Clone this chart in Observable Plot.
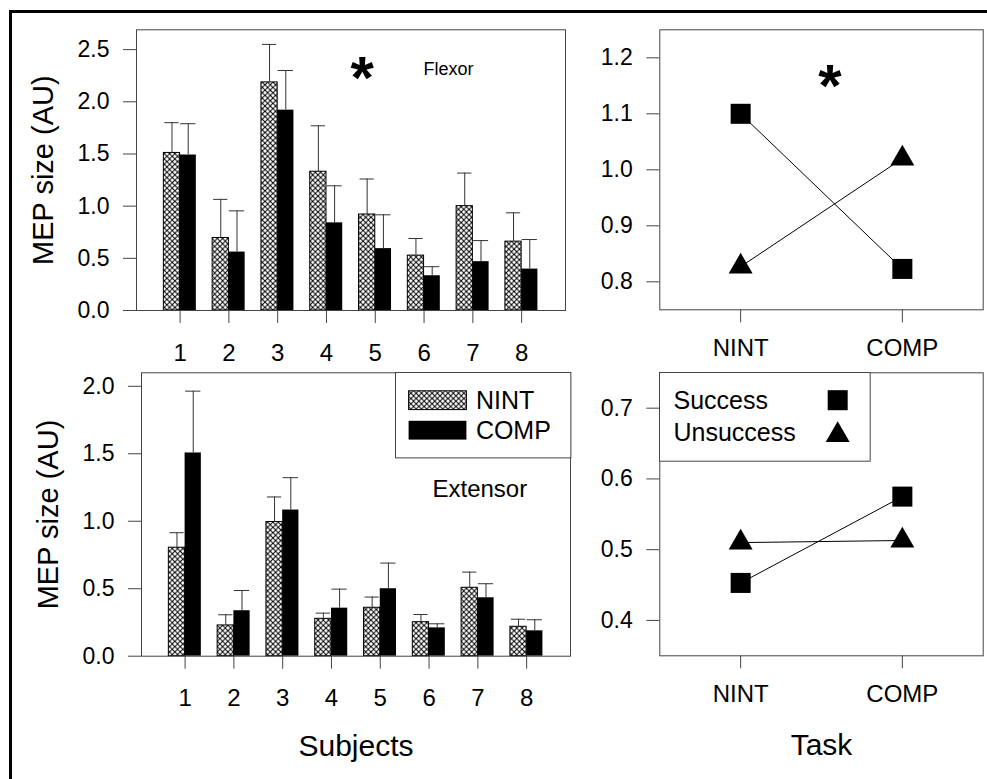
<!DOCTYPE html>
<html><head><meta charset="utf-8">
<script src="https://cdn.jsdelivr.net/npm/d3@7"></script>
<script src="https://cdn.jsdelivr.net/npm/@observablehq/plot@0.6"></script>
<style>
body{margin:0;background:#fff;}
#chart{position:relative;width:987px;height:779px;overflow:hidden;font-family:"Liberation Sans",Arial,sans-serif;background:#fff;}
#chart svg{position:absolute;left:0;top:0;}
#border{position:absolute;left:9px;top:9.5px;width:1200px;height:1200px;border-left:3px solid #000;border-top:3px solid #000;}
</style></head><body>
<svg width="0" height="0" style="position:absolute">
  <defs>
    <pattern id="hatch" patternUnits="userSpaceOnUse" width="5.3" height="5.3">
      <rect width="5.3" height="5.3" fill="white"/>
      <path d="M-1,-1L6.3,6.3M6.3,-1L-1,6.3" stroke="black" stroke-width="1"/>
    </pattern>
  </defs>
</svg>
<div id="chart"><div id="border"></div></div>
<script>
// ---------- data ----------
const subjects = [1, 2, 3, 4, 5, 6, 7, 8];
const conditions = ["NINT", "COMP"];
const flexorNINT    = [1.51, 0.695, 2.186, 1.33, 0.92, 0.526, 1.00, 0.66];
const flexorNINTse  = [0.29, 0.37, 0.364, 0.44, 0.34, 0.164, 0.317, 0.276];
const flexorCOMP    = [1.49, 0.56, 1.92, 0.84, 0.593, 0.333, 0.468, 0.397];
const flexorCOMPse  = [0.30, 0.395, 0.38, 0.355, 0.324, 0.087, 0.202, 0.283];
const extensorNINT   = [0.804, 0.228, 0.994, 0.277, 0.359, 0.252, 0.507, 0.218];
const extensorNINTse = [0.111, 0.079, 0.186, 0.042, 0.079, 0.057, 0.116, 0.056];
const extensorCOMP   = [1.506, 0.337, 1.083, 0.356, 0.500, 0.210, 0.433, 0.188];
const extensorCOMPse = [0.458, 0.150, 0.240, 0.141, 0.190, 0.030, 0.104, 0.082];

const tasks = ["NINT", "COMP"];
const groups = ["Success", "Unsuccess"];
const flexorSuccess     = [1.10, 0.823];
const flexorUnsuccess   = [0.827, 1.020];
const extensorSuccess   = [0.453, 0.575];
const extensorUnsuccess = [0.510, 0.513];

const flexorTicks = [0, 0.5, 1.0, 1.5, 2.0, 2.5];
const extensorTicks = [0, 0.5, 1.0, 1.5, 2.0];
const flexorTaskTicks = [0.8, 0.9, 1.0, 1.1, 1.2];
const extensorTaskTicks = [0.4, 0.5, 0.6, 0.7];

const yTitle = "MEP size (AU)";
const xTitleSubjects = "Subjects";
const xTitleTask = "Task";
const star = "*";

// ---------- layout ----------
const W = 987, H = 779;
const FONT = '"Liberation Sans", Arial, Helvetica, sans-serif';
const AX = "#444";
const chart = document.getElementById("chart");
const fmt = d3.format(".1f");

function rows(mean, se) {
  return subjects.map((s, i) => ({subject: s, mean: mean[i], top: mean[i] + se[i]}));
}

function barPanel(o) {
  const nint = rows(o.nint, o.nintSE), comp = rows(o.comp, o.compSE);
  const pad = 0.334;
  const step = (o.xRange[1] - o.xRange[0]) / (subjects.length + pad);
  const bw = step * (1 - pad), half = bw / 2, q = bw / 4;
  const [l, t, r, b] = o.box;
  return Plot.plot({
    width: W, height: H,
    marginLeft: l, marginTop: t, marginRight: W - r, marginBottom: H - b,
    style: {fontFamily: FONT, fontSize: "23px", color: "black", background: "transparent", overflow: "visible"},
    x: {type: "band", domain: subjects, range: o.xRange, padding: pad, round: false},
    y: {domain: o.yDomain},
    marks: [
      Plot.barY(nint, {x: "subject", y: "mean", fill: "url(#hatch)", stroke: "black", strokeWidth: 1, insetRight: half}),
      Plot.barY(comp, {x: "subject", y: "mean", fill: "black", insetLeft: half}),
      Plot.ruleX(nint, {x: "subject", y1: "mean", y2: "top", dx: -q, stroke: "#333"}),
      Plot.tickY(nint, {x: "subject", y: "top", insetLeft: 1, insetRight: half + 1, stroke: "#333"}),
      Plot.ruleX(comp, {x: "subject", y1: "mean", y2: "top", dx: q, stroke: "#333"}),
      Plot.tickY(comp, {x: "subject", y: "top", insetLeft: half + 0.5, insetRight: 0.5, stroke: "#333"}),
      Plot.frame({stroke: AX}),
      Plot.axisX({tickSize: 13, tickPadding: 20, fontSize: 24, stroke: AX, label: null}),
      Plot.axisY({ticks: o.yTicks, tickFormat: fmt, tickSize: 13, tickPadding: 14, fontSize: 23, stroke: AX, label: null}),
      Plot.text([yTitle], {text: d => d, frameAnchor: "left", dx: -93, rotate: -90, fontSize: 29, textAnchor: "middle", lineAnchor: "middle"}),
      ...o.extra
    ]
  });
}

function taskPanel(o) {
  const data = [
    ...tasks.map((t, i) => ({task: t, group: groups[0], value: o.success[i]})),
    ...tasks.map((t, i) => ({task: t, group: groups[1], value: o.unsuccess[i]}))
  ];
  const [l, t, r, b] = o.box;
  return Plot.plot({
    width: W, height: H,
    marginLeft: l, marginTop: t, marginRight: W - r, marginBottom: H - b,
    style: {fontFamily: FONT, fontSize: "23px", color: "black", background: "transparent", overflow: "visible"},
    x: {type: "point", domain: tasks, padding: 0.5, round: false},
    y: {domain: o.yDomain},
    marks: [
      Plot.line(data, {x: "task", y: "value", z: "group", stroke: "black", strokeWidth: 1}),
      Plot.dot(data.filter(d => d.group === groups[0]), {x: "task", y: "value", symbol: "square", r: 11.3, fill: "black"}),
      Plot.dot(data.filter(d => d.group === groups[1]), {x: "task", y: "value", symbol: "triangle", r: 8.9, fill: "black"}),
      Plot.frame({stroke: AX}),
      Plot.axisX({tickSize: 13, tickPadding: 16.5, fontSize: 24, stroke: AX, label: null}),
      Plot.axisY({ticks: o.yTicks, tickFormat: fmt, tickSize: 13, tickPadding: 14, fontSize: 23, stroke: AX, label: null}),
      ...o.extra
    ]
  });
}

const M = {lineAnchor: "middle"};
const tl = barPanel({
  nint: flexorNINT, nintSE: flexorNINTse, comp: flexorCOMP, compSE: flexorCOMPse,
  box: [136, 29.3, 565, 310], xRange: [147.05, 553.7], yDomain: [0, 2.69], yTicks: flexorTicks,
  extra: [
    Plot.text(["Flexor"], {...M, text: d => d, frameAnchor: "top-left", dx: 287, dy: 39, textAnchor: "start", fontSize: 18}),
    Plot.text([star], {...M, text: d => d, frameAnchor: "top-left", dx: 225.6, dy: 49.1, textAnchor: "middle", fontSize: 60, fontWeight: "bold"})
  ]
});
const bl = barPanel({
  nint: extensorNINT, nintSE: extensorNINTse, comp: extensorCOMP, compSE: extensorCOMPse,
  box: [141, 372.3, 570, 655.7], xRange: [152.05, 558.7], yDomain: [0, 2.1], yTicks: extensorTicks,
  extra: [
    Plot.text(["Extensor"], {...M, text: d => d, frameAnchor: "top-left", dx: 291, dy: 117, textAnchor: "start", fontSize: 24}),
    Plot.text([xTitleSubjects], {...M, text: d => d, frameAnchor: "bottom", dy: 89.7, textAnchor: "middle", fontSize: 30})
  ]
});
const tr = taskPanel({
  success: flexorSuccess, unsuccess: flexorUnsuccess,
  box: [659.3, 29.3, 982.7, 309.3], yDomain: [0.75, 1.25], yTicks: flexorTaskTicks,
  extra: [
    Plot.text([star], {...M, text: d => d, frameAnchor: "top-left", dx: 170, dy: 57.1, textAnchor: "middle", fontSize: 60, fontWeight: "bold"})
  ]
});
const br = taskPanel({
  success: extensorSuccess, unsuccess: extensorUnsuccess,
  box: [659.3, 372.3, 982.7, 655.3], yDomain: [0.35, 0.75], yTicks: extensorTaskTicks,
  extra: [
    Plot.text([xTitleTask], {...M, text: d => d, frameAnchor: "bottom", dy: 90, textAnchor: "middle", fontSize: 30})
  ]
});

// legends
const legendBars = Plot.plot({
  width: 175.4, height: 85.4, margin: 0,
  style: {fontFamily: FONT, fontSize: "25px", color: "black", background: "transparent", overflow: "visible"},
  y: {type: "band", domain: conditions, range: [7.6, 78.8], padding: 0.373, round: false, axis: null},
  marks: [
    Plot.frame({stroke: AX, fill: "white"}),
    Plot.cell([conditions[0]], {y: d => d, fill: "url(#hatch)", stroke: "black", insetLeft: 13.6, insetRight: 104}),
    Plot.cell([conditions[1]], {y: d => d, fill: "black", insetLeft: 13.6, insetRight: 104}),
    Plot.text(conditions, {...M, y: d => d, text: d => d, frameAnchor: "left", dx: 80.4, textAnchor: "start", fontSize: 25})
  ]
});
const legendSymbols = Plot.plot({
  width: 210.7, height: 88.7, margin: 0,
  style: {fontFamily: FONT, fontSize: "25px", color: "black", background: "transparent", overflow: "visible"},
  y: {type: "point", domain: groups, range: [28.5, 60.2], padding: 0, round: false, axis: null},
  marks: [
    Plot.frame({stroke: AX, fill: "white"}),
    Plot.text(groups, {...M, y: d => d, text: d => d, frameAnchor: "left", dx: 14, textAnchor: "start", fontSize: 25}),
    Plot.dot([groups[0]], {y: d => d, frameAnchor: "left", dx: 178.2, dy: -0.8, symbol: "square", r: 11.3, fill: "black"}),
    Plot.dot([groups[1]], {y: d => d, frameAnchor: "left", dx: 178.2, dy: 2.3, symbol: "triangle", r: 8.9, fill: "black"})
  ]
});

for (const el of [tl, bl, tr, br]) chart.appendChild(el);
legendBars.style.left = "394.6px"; legendBars.style.top = "372.3px";
legendSymbols.style.left = "659.3px"; legendSymbols.style.top = "372.3px";
chart.appendChild(legendBars);
chart.appendChild(legendSymbols);
</script>
</body></html>
